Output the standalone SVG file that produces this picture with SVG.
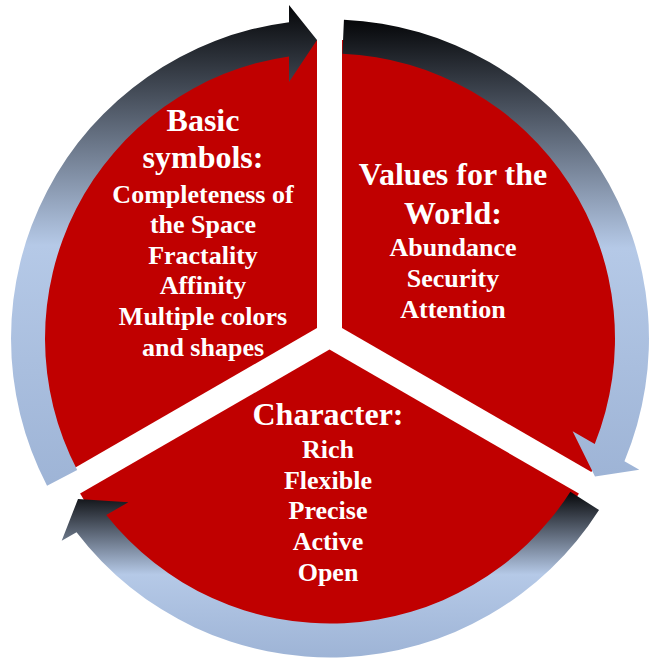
<svg xmlns="http://www.w3.org/2000/svg" width="650" height="660" viewBox="0 0 650 660">
<defs>
<linearGradient id="arrowGrad" x1="0" y1="0" x2="0" y2="1">
<stop offset="0" stop-color="#050608"/>
<stop offset="0.5" stop-color="#b5c9e7"/>
<stop offset="1" stop-color="#9eb4d6"/>
</linearGradient>
<style>
.sector{fill:#c00000;}
.arrow{fill:url(#arrowGrad);}
text{font-family:"Liberation Serif","Times New Roman",serif;font-weight:bold;fill:#ffffff;text-anchor:middle;}
.title{font-size:32px;}
.item{font-size:26px;}
</style>
</defs>
<rect width="650" height="660" fill="#ffffff"/>
<g id="sector-basic">
<path class="sector" d="M317 328 L67.6 472 A288 288 0 0 1 317 40 Z"/>
</g>
<g id="sector-values">
<path class="sector" d="M342 328 L342 40 A288 288 0 0 1 591.4 472 Z"/>
</g>
<g id="sector-character">
<path class="sector" d="M329.5 349.6 L578.9 493.6 A288 288 0 0 1 80.1 493.6 Z"/>
</g>
<g id="connectors">
<path class="arrow" d="M47.05 485.78 A319 319 0 0 1 289 22.15 L289 5 L317 40 L289 82 L289 56.46 A285 285 0 0 0 77.2 470.08 Z"/>
<path class="arrow" d="M343.93 19.82 A319 319 0 0 1 624.46 461.17 L639.31 469.74 L595 476.49 L572.63 431.24 L594.75 444.01 A285 285 0 0 0 342.45 53.78 Z"/>
<path class="arrow" d="M599.02 509.9 A319 319 0 0 1 76.54 532.19 L61.69 540.76 L78 499.01 L128.37 502.26 L106.25 515.03 A285 285 0 0 0 570.35 491.64 Z"/>
</g>
<g id="text-basic">
<text class="title" x="203" y="131">Basic</text>
<text class="title" x="203" y="168">symbols:</text>
<text class="item" x="203" y="203">Completeness of</text>
<text class="item" x="203" y="233">the Space</text>
<text class="item" x="203" y="264">Fractality</text>
<text class="item" x="203" y="294">Affinity</text>
<text class="item" x="203" y="325">Multiple colors</text>
<text class="item" x="203" y="356">and shapes</text>
</g>
<g id="text-values">
<text class="title" x="453" y="185">Values for the</text>
<text class="title" x="453" y="224">World:</text>
<text class="item" x="453" y="256">Abundance</text>
<text class="item" x="453" y="287">Security</text>
<text class="item" x="453" y="318">Attention</text>
</g>
<g id="text-character">
<text class="title" x="328" y="425">Character:</text>
<text class="item" x="328" y="458">Rich</text>
<text class="item" x="328" y="489">Flexible</text>
<text class="item" x="328" y="519">Precise</text>
<text class="item" x="328" y="550">Active</text>
<text class="item" x="328" y="581">Open</text>
</g>
</svg>
